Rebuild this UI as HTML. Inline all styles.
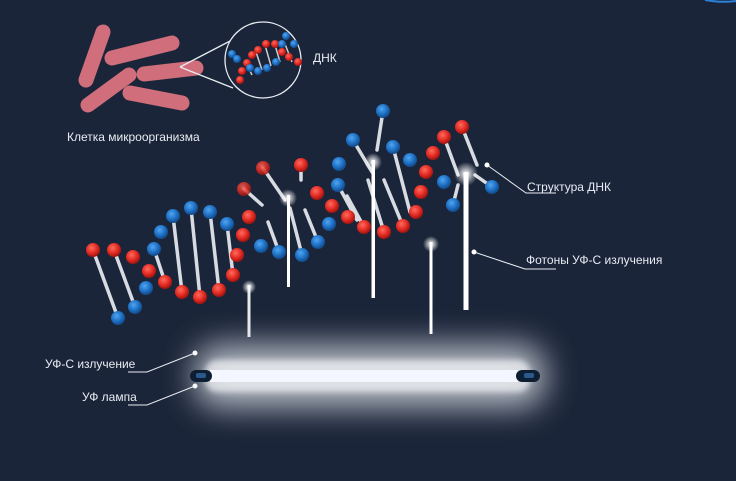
<!DOCTYPE html>
<html><head><meta charset="utf-8"><style>
html,body{margin:0;padding:0;background:#1b2539;}
svg{display:block}
text{font-family:"Liberation Sans",sans-serif;fill:#e8ecf2;font-size:12px}
</style></head><body>
<svg width="736" height="481" viewBox="0 0 736 481" xmlns="http://www.w3.org/2000/svg">
<defs>
<radialGradient id="r" cx="40%" cy="35%" r="65%"><stop offset="0" stop-color="#ff6b5e"/><stop offset=".6" stop-color="#e22a22"/><stop offset="1" stop-color="#9e1410"/></radialGradient>
<radialGradient id="b" cx="40%" cy="35%" r="65%"><stop offset="0" stop-color="#4fa6f0"/><stop offset=".6" stop-color="#1e6fc4"/><stop offset="1" stop-color="#124a88"/></radialGradient>
<radialGradient id="g" cx="50%" cy="50%" r="50%"><stop offset="0" stop-color="#fff" stop-opacity="1"/><stop offset=".4" stop-color="#fff" stop-opacity=".6"/><stop offset="1" stop-color="#fff" stop-opacity="0"/></radialGradient>
<filter id="bl" x="-50%" y="-100%" width="200%" height="300%"><feGaussianBlur stdDeviation="16"/></filter>
<filter id="bs" x="-50%" y="-50%" width="200%" height="200%"><feGaussianBlur stdDeviation="3"/></filter>
</defs>
<path d="M705 0 Q722 3 736 1" stroke="#2a7fd6" stroke-width="2" fill="none"/>
<!-- bacteria -->
<g stroke="#d06e7c" stroke-width="15" stroke-linecap="round">
<line x1="103" y1="32" x2="86" y2="80"/>
<line x1="112" y1="58" x2="172" y2="43"/>
<line x1="144" y1="74" x2="196" y2="68"/>
<line x1="88" y1="105" x2="129" y2="75"/>
<line x1="130" y1="93" x2="182" y2="103"/>
</g>
<g stroke="#e8ecf2" stroke-width="1.3" fill="none">
<line x1="180" y1="67" x2="232" y2="40"/><line x1="180" y1="67" x2="233" y2="88"/>
<circle cx="263" cy="60" r="38" fill="#1b2539"/>
</g>
<g stroke="#ccc" stroke-width="1.5">
<line x1="245" y1="60" x2="252" y2="75"/><line x1="256" y1="52" x2="262" y2="70"/><line x1="265" y1="45" x2="271" y2="66"/><line x1="275" y1="45" x2="280" y2="62"/><line x1="285" y1="44" x2="292" y2="62"/>
</g>
<g>
<circle cx="240" cy="80" r="4" fill="url(#r)"/><circle cx="242" cy="71" r="4" fill="url(#r)"/><circle cx="247" cy="63" r="4" fill="url(#r)"/><circle cx="252" cy="55" r="4" fill="url(#r)"/><circle cx="258" cy="50" r="4" fill="url(#r)"/><circle cx="266" cy="44" r="4" fill="url(#r)"/><circle cx="275" cy="44" r="4" fill="url(#r)"/><circle cx="282" cy="52" r="4" fill="url(#r)"/><circle cx="289" cy="57" r="4" fill="url(#r)"/><circle cx="298" cy="62" r="4" fill="url(#r)"/>
<circle cx="232" cy="54" r="4" fill="url(#b)"/><circle cx="237" cy="59" r="4" fill="url(#b)"/><circle cx="250" cy="68" r="4" fill="url(#b)"/><circle cx="258" cy="71" r="4" fill="url(#b)"/><circle cx="267" cy="68" r="4" fill="url(#b)"/><circle cx="276" cy="62" r="4" fill="url(#b)"/><circle cx="282" cy="44" r="4" fill="url(#b)"/><circle cx="286" cy="36" r="4" fill="url(#b)"/><circle cx="294" cy="44" r="4" fill="url(#b)"/>
</g>
<text x="313" y="62">ДНК</text>
<text x="67" y="141">Клетка микроорганизма</text>
<!-- rods -->
<g stroke="#d8dce2" stroke-width="3.5" stroke-linecap="round">
<line x1="93" y1="250" x2="118" y2="318"/><line x1="114" y1="250" x2="135" y2="307"/>
<line x1="154" y1="249" x2="165" y2="282"/><line x1="173" y1="216" x2="182" y2="292"/><line x1="191" y1="208" x2="200" y2="297"/><line x1="210" y1="212" x2="219" y2="290"/><line x1="227" y1="224" x2="233" y2="275"/>
<line x1="244" y1="189" x2="262" y2="205"/><line x1="263" y1="168" x2="285" y2="200"/><line x1="301" y1="165" x2="301" y2="180"/>
<line x1="268" y1="222" x2="279" y2="252"/><line x1="290" y1="208" x2="302" y2="255"/><line x1="305" y1="210" x2="318" y2="242"/>
<line x1="353" y1="140" x2="372" y2="172"/><line x1="383" y1="111" x2="377" y2="150"/><line x1="338" y1="185" x2="357" y2="220"/><line x1="347" y1="196" x2="364" y2="227"/>
<line x1="393" y1="147" x2="410" y2="212"/><line x1="368" y1="180" x2="384" y2="232"/><line x1="384" y1="180" x2="403" y2="226"/>
<line x1="444" y1="137" x2="458" y2="175"/><line x1="462" y1="127" x2="477" y2="165"/><line x1="475" y1="175" x2="492" y2="187"/><line x1="453" y1="205" x2="458" y2="185"/>
</g>
<!-- balls -->
<g>
<g fill="url(#r)">
<circle cx="93" cy="250" r="7"/><circle cx="114" cy="250" r="7"/><circle cx="133" cy="257" r="7"/><circle cx="149" cy="271" r="7"/><circle cx="165" cy="282" r="7"/><circle cx="182" cy="292" r="7"/><circle cx="200" cy="297" r="7"/><circle cx="219" cy="290" r="7"/><circle cx="233" cy="275" r="7"/><circle cx="237" cy="255" r="7"/><circle cx="243" cy="235" r="7"/><circle cx="249" cy="217" r="7"/>
<circle cx="244" cy="189" r="7" opacity=".8"/><circle cx="263" cy="168" r="7" opacity=".85"/><circle cx="301" cy="165" r="7"/><circle cx="317" cy="193" r="7"/><circle cx="332" cy="206" r="7"/><circle cx="348" cy="217" r="7"/><circle cx="364" cy="227" r="7"/><circle cx="384" cy="232" r="7"/><circle cx="403" cy="226" r="7"/><circle cx="416" cy="212" r="7"/><circle cx="421" cy="192" r="7"/><circle cx="426" cy="172" r="7"/><circle cx="433" cy="153" r="7"/><circle cx="444" cy="137" r="7"/><circle cx="462" cy="127" r="7"/>
</g>
<g fill="url(#b)">
<circle cx="118" cy="318" r="7"/><circle cx="135" cy="307" r="7"/><circle cx="146" cy="288" r="7"/><circle cx="154" cy="249" r="7"/><circle cx="161" cy="232" r="7"/><circle cx="173" cy="216" r="7"/><circle cx="191" cy="208" r="7"/><circle cx="210" cy="212" r="7"/><circle cx="227" cy="224" r="7"/>
<circle cx="261" cy="246" r="7"/><circle cx="279" cy="252" r="7"/><circle cx="302" cy="255" r="7"/><circle cx="318" cy="242" r="7"/><circle cx="329" cy="224" r="7"/><circle cx="338" cy="185" r="7"/><circle cx="339" cy="164" r="7"/><circle cx="353" cy="140" r="7"/><circle cx="383" cy="111" r="7"/><circle cx="393" cy="147" r="7"/><circle cx="410" cy="160" r="7"/><circle cx="444" cy="182" r="7"/><circle cx="453" cy="205" r="7"/><circle cx="492" cy="187" r="7"/>
</g>
</g>
<!-- photons -->
<g fill="#fff">
<rect x="247.5" y="285" width="3" height="52" opacity=".9"/><circle cx="249" cy="287" r="7" fill="url(#g)"/>
<rect x="287" y="195" width="3" height="92"/><circle cx="288" cy="198" r="9" fill="url(#g)"/>
<rect x="371.5" y="160" width="3.5" height="138"/><circle cx="373" cy="162" r="9" fill="url(#g)"/>
<rect x="429.5" y="242" width="3" height="92"/><circle cx="431" cy="244" r="8" fill="url(#g)"/>
<rect x="463.5" y="172" width="5" height="138"/><circle cx="466" cy="174" r="12" fill="url(#g)"/>
</g>
<!-- callouts -->
<g stroke="#e8ecf2" stroke-width="1" fill="none">
<polyline points="487,165 526,193 556,193"/><polyline points="474,252 525,269 556,269"/>
<polyline points="195,353 147,372 128,372"/><polyline points="195,386 147,405 128,405"/>
</g>
<g fill="#fff"><circle cx="487" cy="165" r="2.5"/><circle cx="474" cy="252" r="2.5"/><circle cx="195" cy="353" r="2.5"/><circle cx="195" cy="386" r="2.5"/></g>
<text x="527" y="191">Структура ДНК</text>
<text x="526" y="264">Фотоны УФ-С излучения</text>
<text x="45" y="368">УФ-С излучение</text>
<text x="82" y="401">УФ лампа</text>
<!-- lamp -->
<rect x="195" y="345" width="350" height="62" rx="24" fill="#dfe3ea" opacity=".8" filter="url(#bl)"/>
<rect x="205" y="360" width="325" height="32" rx="12" fill="#fff" opacity=".6" filter="url(#bs)"/>
<rect x="210" y="370" width="308" height="12" fill="#f4f7ff"/>
<rect x="190" y="370" width="22" height="12" rx="6" fill="#0e1e33"/>
<rect x="516" y="370" width="24" height="12" rx="6" fill="#0e1e33"/>
<rect x="196" y="373" width="10" height="5" rx="2" fill="#2a5a8c"/><rect x="524" y="373" width="10" height="5" rx="2" fill="#2a5a8c"/>
</svg>
</body></html>
